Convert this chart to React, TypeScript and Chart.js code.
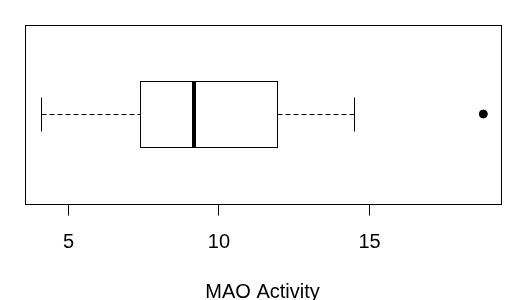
import React, { useEffect, useRef } from "react";
import { Chart, registerables } from "chart.js";

Chart.register(...registerables);

// Five-number summary of the box (whisker low, Q1, median, Q3, whisker high)
const statLabels = ["whiskerLow", "q1", "median", "q3", "whiskerHigh"];
const statValues = [4.1, 7.39, 9.17, 11.91, 14.5];
const outlierValues = [18.78];
const xTickValues = [5, 10, 15];
const axisTitle = "MAO Activity";
const xMin = 3.54;
const xMax = 19.35;
const groupPosition = 1;

const stat = (name: string) => statValues[statLabels.indexOf(name)];

const boxPlugin = {
  id: "boxPlotDraw",
  beforeDatasetsDraw(chart: any) {
    const { ctx, chartArea, scales } = chart;
    const xs = scales.x;
    const ys = scales.y;
    const px = (v: number) => Math.round(xs.getPixelForValue(v)) + 0.5;
    const py = (v: number) => Math.round(ys.getPixelForValue(v)) + 0.5;
    const boxHalf = 0.2;
    const stapleHalf = 0.1;
    const yc = py(groupPosition);
    const yTop = py(groupPosition + boxHalf);
    const yBot = py(groupPosition - boxHalf);
    const sTop = py(groupPosition + stapleHalf);
    const sBot = py(groupPosition - stapleHalf);
    ctx.save();
    ctx.strokeStyle = "#000";
    ctx.lineWidth = 1;
    // frame
    ctx.strokeRect(
      Math.round(chartArea.left) + 0.5,
      Math.round(chartArea.top) + 0.5,
      Math.round(chartArea.right) - Math.round(chartArea.left),
      Math.round(chartArea.bottom) - Math.round(chartArea.top)
    );
    // dashed whiskers
    ctx.setLineDash([5, 3]);
    ctx.beginPath();
    ctx.moveTo(px(stat("whiskerLow")), yc);
    ctx.lineTo(px(stat("q1")), yc);
    ctx.moveTo(px(stat("q3")), yc);
    ctx.lineTo(px(stat("whiskerHigh")), yc);
    ctx.stroke();
    ctx.setLineDash([]);
    // staples
    ctx.beginPath();
    ctx.moveTo(px(stat("whiskerLow")), sTop);
    ctx.lineTo(px(stat("whiskerLow")), sBot);
    ctx.moveTo(px(stat("whiskerHigh")), sTop);
    ctx.lineTo(px(stat("whiskerHigh")), sBot);
    ctx.stroke();
    // box
    ctx.fillStyle = "#fff";
    const bx = px(stat("q1"));
    const bw = px(stat("q3")) - bx;
    ctx.fillRect(bx, yTop, bw, yBot - yTop);
    ctx.strokeRect(bx, yTop, bw, yBot - yTop);
    // median
    ctx.lineWidth = 4;
    ctx.lineCap = "butt";
    ctx.beginPath();
    const mx = Math.round(xs.getPixelForValue(stat("median")));
    ctx.moveTo(mx, yTop);
    ctx.lineTo(mx, yBot);
    ctx.stroke();
    ctx.restore();
  },
};

export default function App() {
  const canvasRef = useRef<HTMLCanvasElement | null>(null);

  useEffect(() => {
    if (!canvasRef.current) return;
    const chart = new Chart(canvasRef.current, {
      type: "scatter",
      data: {
        datasets: [
          {
            label: "outliers",
            data: outlierValues.map((v) => ({ x: v, y: groupPosition })),
            backgroundColor: "#000",
            borderColor: "#000",
            pointRadius: 4,
            pointHoverRadius: 4,
          },
        ],
      },
      options: {
        responsive: false,
        animation: false,
        events: [],
        layout: { padding: { left: 24.5, right: 24.5, top: 24.5, bottom: 0 } },
        plugins: { legend: { display: false }, tooltip: { enabled: false } },
        scales: {
          x: {
            type: "linear",
            min: xMin,
            max: xMax,
            afterBuildTicks: (scale: any) => {
              scale.ticks = xTickValues.map((v) => ({ value: v }));
            },
            afterFit: (scale: any) => {
              scale.height = 96.5;
            },
            grid: {
              display: true,
              drawOnChartArea: false,
              drawTicks: true,
              tickLength: 12,
              color: "#000",
              lineWidth: 1,
            },
            border: { display: false },
            ticks: {
              color: "#000",
              padding: 15,
              maxRotation: 0,
              font: { family: "'Liberation Sans', Arial, sans-serif", size: 20 },
            },
            title: {
              display: true,
              text: axisTitle,
              color: "#000",
              padding: { top: 0, bottom: -4 },
              font: { family: "'Liberation Sans', Arial, sans-serif", size: 20 },
            },
          },
          y: {
            type: "linear",
            display: false,
            min: 0.46,
            max: 1.54,
          },
        },
      },
      plugins: [boxPlugin],
    } as any);
    return () => chart.destroy();
  }, []);

  return (
    <div style={{ position: "fixed", left: 0, top: 0, width: 525, height: 300, background: "#fff" }}>
      <canvas ref={canvasRef} width={525} height={300} style={{ display: "block" }} />
    </div>
  );
}
